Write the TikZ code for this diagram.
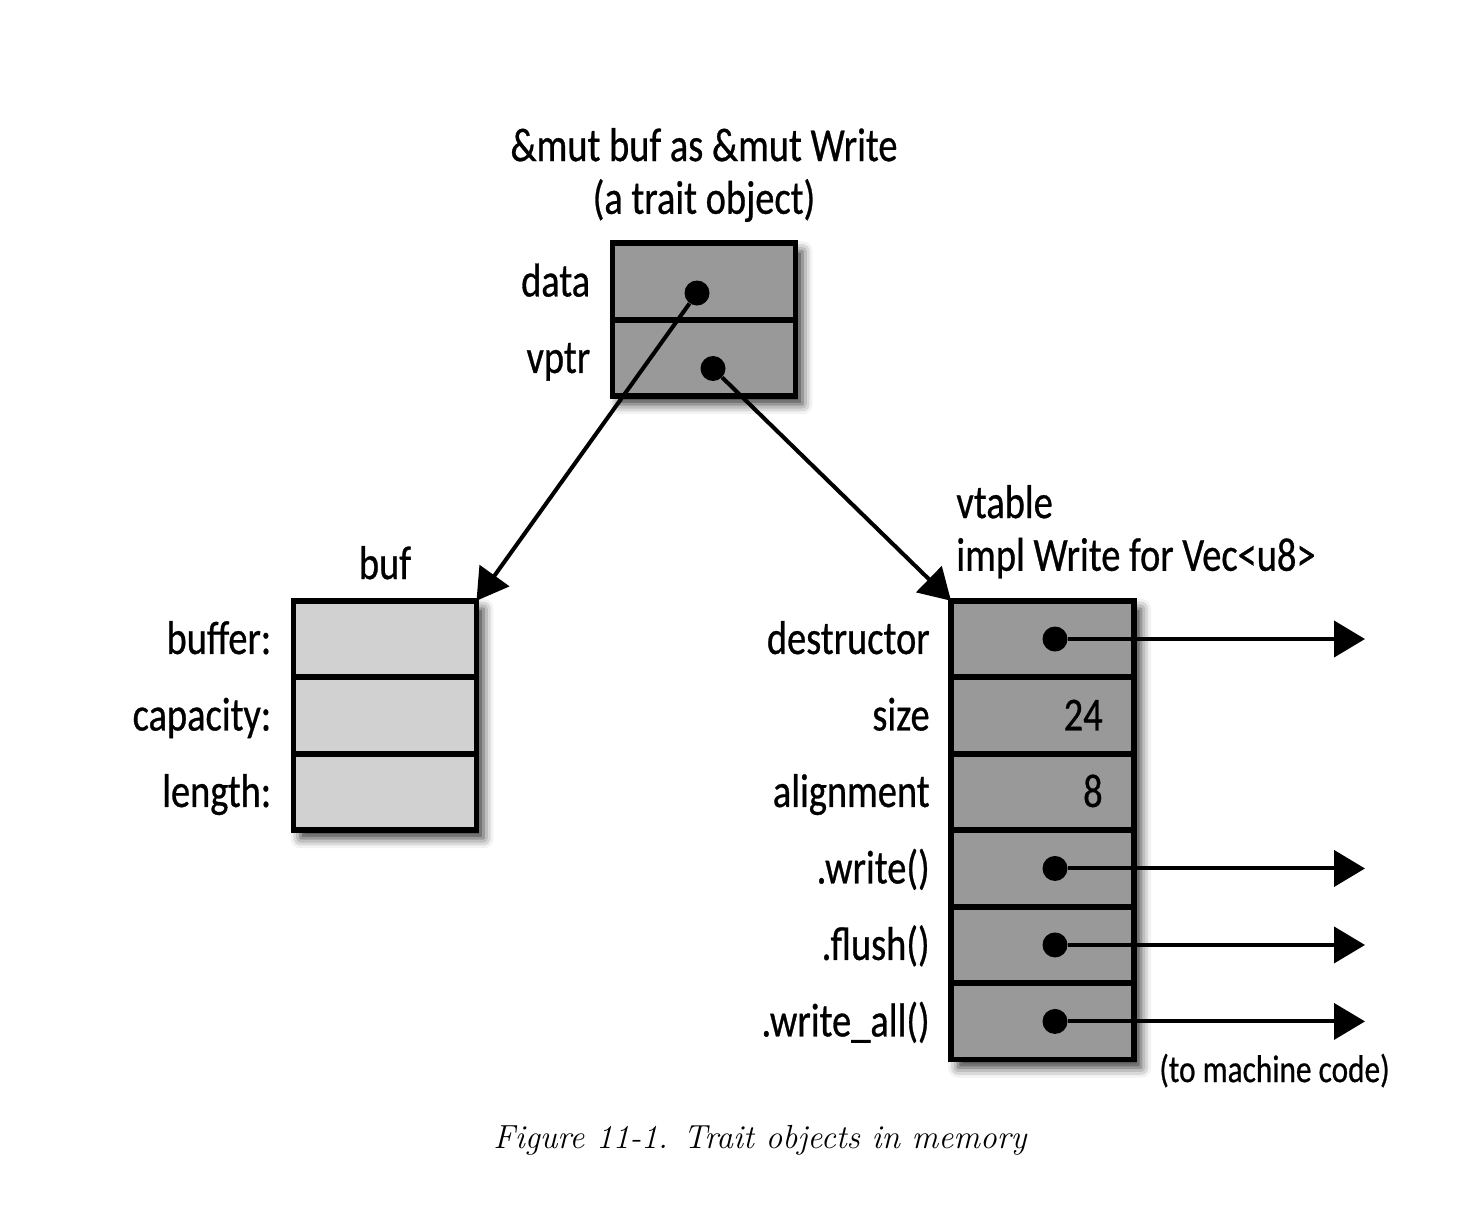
\documentclass[tikz,border=0pt]{standalone}
\usepackage{fontspec}
\setsansfont[FakeStretch=0.81,FakeBold=0.6]{Carlito}
\usetikzlibrary{arrows.meta, positioning, fit, backgrounds, shadows.blur}

\begin{document}
\begin{tikzpicture}[
		x=0.02cm, y=-0.02cm,
		font=\sffamily\fontsize{27}{30}\selectfont,
		cell/.style={rectangle,draw,line width=3.2pt,minimum width=3.66cm,minimum height=1.53cm,outer sep=0pt,inner sep=0pt},
		darkcell/.style={cell,fill=black!40},
		lightcell/.style={cell,fill=black!18},
		fieldname/.style={inner sep=0pt,text height=1.25em,text depth=0em,yshift=-0.08cm},
		pointer/.style={circle,fill=black,inner sep=0pt,minimum size=0.5cm},
		link/.style={line width=2.3pt,-{Triangle[length=0.62cm,width=0.72cm]}},
		boxshadow/.style={inner sep=0pt,fill=white,blur shadow={shadow xshift=0.14cm,shadow yshift=-0.16cm,shadow blur radius=0.2cm,shadow opacity=80}}
		]
		\useasboundingbox (0,0) rectangle (1474,1208);

		% the trait object
		\node[darkcell](D) at (704,281.5){};
		\node[darkcell, below=0pt of D](V){};
		\node[fieldname, left=0.44cm of D](Dn){data};
		\node[fieldname, left=0.44cm of V](Vn){vptr};
		\node[align=center, inner sep=0pt, above=0.42cm of D](T){\&mut buf as \&mut Write\\(a trait object)};
		\node[pointer](Pdata) at ([xshift=-0.14cm,yshift=-0.23cm]D.center){};
		\node[pointer](Pvptr) at ([xshift=0.18cm,yshift=-0.21cm]V.center){};

		% buf
		\node[lightcell](B1) at (385,639){};
		\node[lightcell, below=0pt of B1](B2){};
		\node[lightcell, below=0pt of B2](B3){};
		\node[fieldname, left=0.44cm of B1](B1n){buffer:};
		\node[fieldname, left=0.44cm of B2](B2n){capacity:};
		\node[fieldname, left=0.44cm of B3](B3n){length:};
		\node[inner sep=0pt, above=0.42cm of B1](Bt){buf};

		% vtable
		\node[darkcell](S1) at (1042.5,639){};
		\node[darkcell, below=0pt of S1](S2){};
		\node[darkcell, below=0pt of S2](S3){};
		\node[darkcell, below=0pt of S3](S4){};
		\node[darkcell, below=0pt of S4](S5){};
		\node[darkcell, below=0pt of S5](S6){};
		\node[fieldname, left=0.42cm of S1](S1n){destructor};
		\node[fieldname, left=0.42cm of S2](S2n){size};
		\node[fieldname, left=0.42cm of S3](S3n){alignment};
		\node[fieldname, left=0.42cm of S4](S4n){.write()};
		\node[fieldname, left=0.42cm of S5](S5n){.flush()};
		\node[fieldname, left=0.42cm of S6](S6n){.write\_all()};
		\node[fieldname, anchor=east] at ([xshift=-0.62cm]S2.east)(size){24};
		\node[fieldname, anchor=east] at ([xshift=-0.62cm]S3.east)(align){8};
		\node[align=left, inner sep=0pt, anchor=south west] at ([xshift=0.1cm,yshift=0.44cm]S1.north west)(St){vtable\\impl Write for Vec<u8>};
		\node[pointer](Pdtor) at ([xshift=0.25cm]S1.center){};
		\node[pointer](Pwrite) at ([xshift=0.25cm]S4.center){};
		\node[pointer](Pflush) at ([xshift=0.25cm]S5.center){};
		\node[pointer](Pall) at ([xshift=0.25cm]S6.center){};

		% shadows behind the boxes
		\begin{scope}[on background layer]
			\node[boxshadow, fit=(D)(V)]{};
			\node[boxshadow, fit=(B1)(B3)]{};
			\node[boxshadow, fit=(S1)(S6)]{};
		\end{scope}

		% pointers
		\draw[link] (Pdata) -- (B1.north east);
		\draw[link] (Pvptr) -- (S1.north west);
		\coordinate (Edtor) at (1365,639);
		\coordinate (Ewrite) at (Pwrite -| Edtor);
		\coordinate (Eflush) at (Pflush -| Edtor);
		\coordinate (Eall) at (Pall -| Edtor);
		\draw[link] (Pdtor) -- (Edtor);
		\draw[link] (Pwrite) -- (Ewrite);
		\draw[link] (Pflush) -- (Eflush);
		\draw[link] (Pall) -- (Eall);
		\node[inner sep=0pt, anchor=north east, font=\sffamily\fontsize{22}{25}\selectfont] at ([xshift=0.5cm,yshift=-0.64cm]Eall)(mc){(to machine code)};

		\node[font=\rmfamily\itshape\fontsize{19}{22}\selectfont](cap) at (760,1140){Figure 11-1. Trait objects in memory};
	\end{tikzpicture}
\end{document}
